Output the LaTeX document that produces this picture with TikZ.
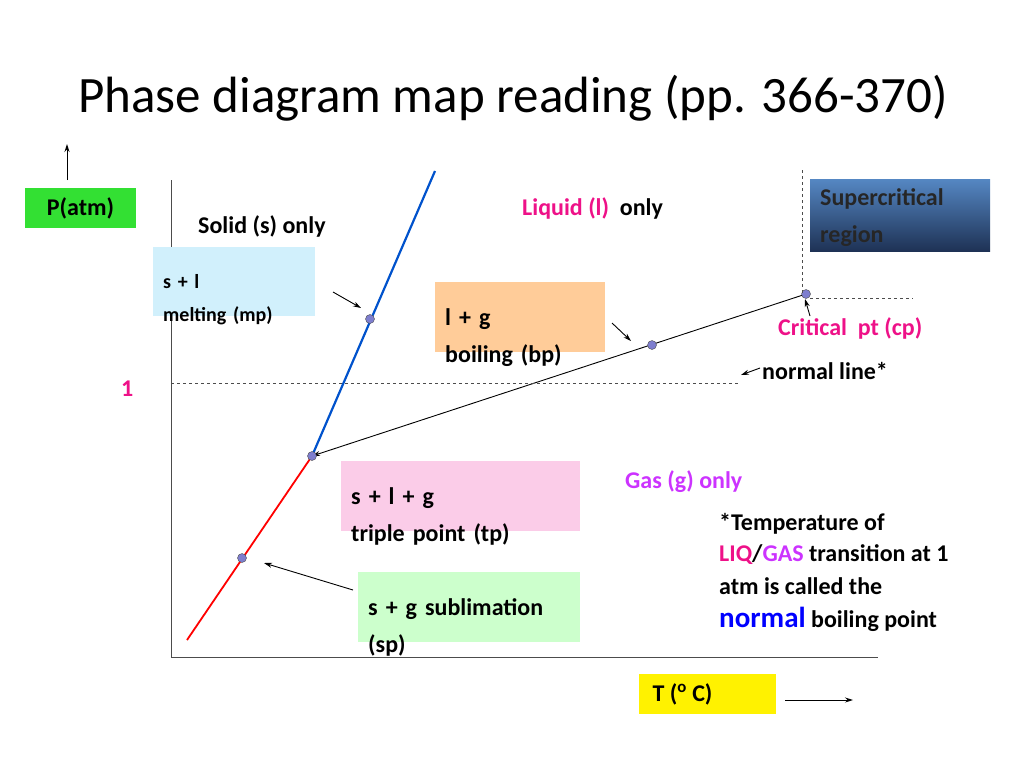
\documentclass[tikz,border=0pt]{standalone}
\usepackage{fontspec}
\setmainfont{Carlito}
\usetikzlibrary{arrows.meta}
\begin{document}
\begin{tikzpicture}[x=1pt,y=-1pt,
  lbl/.style={font=\fontsize{24}{28}\selectfont\bfseries,inner sep=0,anchor=west},
  bx/.style={font=\fontsize{24}{37}\selectfont\bfseries,align=left,anchor=north west,inner xsep=10pt,inner ysep=6pt,text depth=0pt},
  dot/.style={circle,draw=black!70,fill=blue!45!gray!70,inner sep=0,minimum size=9pt},
  ar/.style={-{Stealth[length=8pt,width=5pt]},line width=0.9pt},
  dsh/.style={dashed,gray!60!black,line width=0.8pt}]
\useasboundingbox (0,0) rectangle (1024,768);
\definecolor{mag}{HTML}{EE1188}
\definecolor{pur}{HTML}{CC33FF}
\node[font=\fontsize{51}{56}\selectfont,anchor=west,inner sep=0] (title) at (78,98) {Phase diagram map reading (pp. 366-370)};
\coordinate (ua) at (67,180); \coordinate (ub) at (67,144);
\draw[ar] (ua) -- (ub);
\node[fill=green!85!black!80,minimum width=111pt,minimum height=40pt,font=\fontsize{24}{28}\selectfont\bfseries] (patm) at (80.5,208) {P(atm)};
\coordinate (o) at (171,657); \coordinate (yt) at (171,180); \coordinate (xr) at (878,657);
\draw[line width=0.9pt,gray!60!black] (yt) -- (o) -- (xr);
\node[lbl] (solid) at (198,226) {Solid (s) only};
\node[bx,fill=cyan!20!white,fill=cyan!18,text width=142pt,minimum height=69pt,font=\fontsize{20}{33}\selectfont\bfseries] (sl) at (153,247) {s + l\\melting (mp)};
\coordinate (a1) at (333,292); \coordinate (a1e) at (361,308);
\draw[ar] (a1) -- (a1e);
\coordinate (tp) at (312,456); \coordinate (bt) at (435,171); \coordinate (rb) at (187,640); \coordinate (cp) at (806,294);
\draw[blue!60!cyan!80!black,line width=2.2pt] (tp) -- (bt);
\draw[red,line width=1.8pt] (rb) -- (tp);
\draw[ar] (cp) -- (tp);
\node[dot] (d1) at (370,319) {};
\node[dot] (d2) at (242,558) {};
\node[dot] (d3) at (652,345) {};
\node[dot] (d4) at (tp) {};
\node[dot] (d5) at (cp) {};
\node[bx,fill=orange!40!white,text width=150pt,minimum height=70pt] (lg) at (435,282) {l + g\\boiling (bp)};
\coordinate (a2) at (612,323); \coordinate (a2e) at (631,341);
\draw[ar] (a2) -- (a2e);
\coordinate (v1) at (802,170); \coordinate (v2) at (802,294);
\draw[dsh] (v1) -- (v2);
\coordinate (h1) at (810,298); \coordinate (h2) at (913,298);
\draw[dsh] (h1) -- (h2);
\shade[top color={rgb,255:red,85;green,135;blue,195},bottom color={rgb,255:red,30;green,50;blue,85}] (810,179) rectangle (990,251);
\node[bx,text=black!85,text width=160pt] (sc) at (810,182) {Supercritical\\region};
\node[lbl] (liq) at (522,208) {\textcolor{mag}{Liquid (l)}\ \ only};
\node[lbl,text=mag] (crit) at (778,328) {Critical\ \ pt (cp)};
\coordinate (a3) at (810,316); \coordinate (a3e) at (805,299);
\draw[ar] (a3) -- (a3e);
\coordinate (n1) at (171,383); \coordinate (n2) at (740,383);
\draw[dsh] (n1) -- (n2);
\node[lbl,text=mag] (one) at (121,389) {1};
\node[lbl] (nl) at (762,371) {normal line*};
\coordinate (a4) at (760,368); \coordinate (a4e) at (741,375);
\draw[ar] (a4) -- (a4e);
\node[bx,fill=magenta!20,text width=219pt,minimum height=70pt] (slg) at (341,461) {s + l + g\\triple point (tp)};
\node[lbl,text=pur] (gas) at (625,482) {Gas (g) only};
\node[lbl] (t1) at (719,524) {*Temperature of};
\node[lbl] (t2) at (719,555) {\textcolor{mag}{LIQ}/\textcolor{pur}{GAS} transition at 1};
\node[lbl] (t3) at (719,586) {atm is called the};
\node[lbl] (t4) at (719,619) {\textcolor{blue}{\fontsize{29}{30}\selectfont normal} boiling point};
\node[bx,fill=green!20,text width=202pt,minimum height=70pt] (sg) at (358,572) {s + g sublimation\\(sp)};
\coordinate (a5) at (353,590); \coordinate (a5e) at (264,563);
\draw[ar] (a5) -- (a5e);
\node[fill=yellow,minimum width=137pt,minimum height=40pt,inner xsep=0,font=\fontsize{24}{28}\selectfont\bfseries] (T) at (707.5,694) {\hspace*{-50pt}T (\textsuperscript{o} C)};
\coordinate (a6) at (785,700); \coordinate (a6e) at (853,700);
\draw[ar] (a6) -- (a6e);
\end{tikzpicture}
\end{document}
